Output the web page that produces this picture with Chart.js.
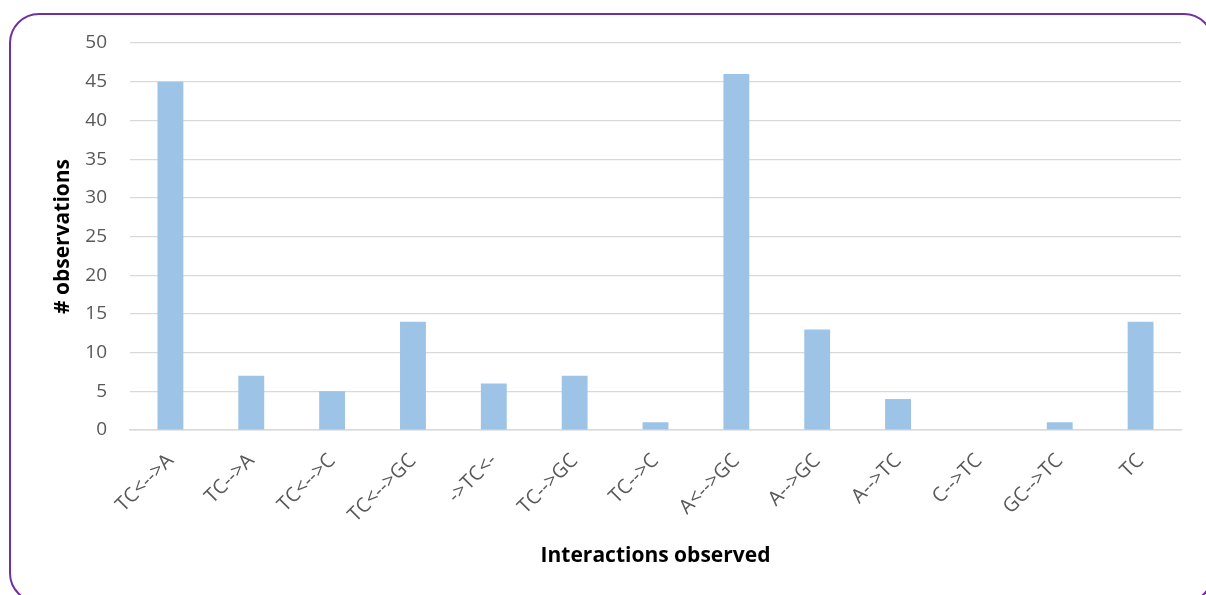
<!DOCTYPE html>
<html>
<head>
<meta charset="utf-8">
<script src="https://cdn.jsdelivr.net/npm/chart.js@4/dist/chart.umd.min.js"></script>
<style>
  html, body { margin: 0; padding: 0; background: #fff; overflow: hidden; }
  #wrap { position: relative; width: 1206px; height: 595px; overflow: hidden; }
  #frame {
    position: absolute; left: 9px; top: 13px; width: 1205px; height: 590px;
    border: 2.5px solid #7030A0; border-radius: 30px; box-sizing: border-box;
  }
  canvas { position: absolute; left: 0; top: 0; }
</style>
</head>
<body>
<div id="wrap">
  <div id="frame"></div>
  <canvas id="chart" width="1206" height="595"></canvas>
</div>
<script>
  const categories = ["TC<-->A", "TC-->A", "TC<-->C", "TC<-->GC", "->TC<-", "TC-->GC", "TC-->C",
    "A<-->GC", "A-->GC", "A-->TC", "C-->TC", "GC-->TC", "TC"];
  const observations = [45, 7, 5, 14, 6, 7, 1, 46, 13, 4, 0, 1, 14];
  const yTicks = [0, 5, 10, 15, 20, 25, 30, 35, 40, 45, 50];

  const tickFont = { family: "'Open Sans', sans-serif", size: 19 };
  const xTickFont = { family: "'Open Sans', sans-serif", size: 20 };
  const titleFont = { family: "'Open Sans', sans-serif", size: 21, weight: "bold" };

  new Chart(document.getElementById("chart"), {
    type: "bar",
    data: {
      labels: categories,
      datasets: [{
        data: observations,
        backgroundColor: "#9DC3E6",
        borderWidth: 0,
        barPercentage: 0.32,
        categoryPercentage: 1,
      }],
    },
    options: {
      responsive: false,
      animation: false,
      layout: { padding: { left: 0, right: 25, top: 43, bottom: 0 } },
      plugins: { legend: { display: false }, tooltip: { enabled: false } },
      scales: {
        x: {
          grid: { display: false },
          border: { color: "#D9D9D9", width: 1.5 },
          ticks: { color: "#595959", font: xTickFont, minRotation: 45, maxRotation: 45, padding: 11 },
          title: { display: true, text: "Interactions observed", color: "#000", font: titleFont, padding: { top: 0, bottom: 26 } },
          afterFit: (scale) => { scale.height = 165; },
        },
        y: {
          min: 0,
          max: 50,
          afterBuildTicks: (scale) => { scale.ticks = yTicks.map((v) => ({ value: v })); },
          grid: { color: "#D9D9D9", lineWidth: 1.2, drawTicks: false },
          border: { display: false },
          ticks: { color: "#595959", font: tickFont, padding: 23 },
          title: { display: true, text: "# observations", color: "#000", font: titleFont, padding: { top: 50, bottom: 0 } },
          afterFit: (scale) => { scale.width = 130; },
        },
      },
    },
  });
</script>
</body>
</html>
